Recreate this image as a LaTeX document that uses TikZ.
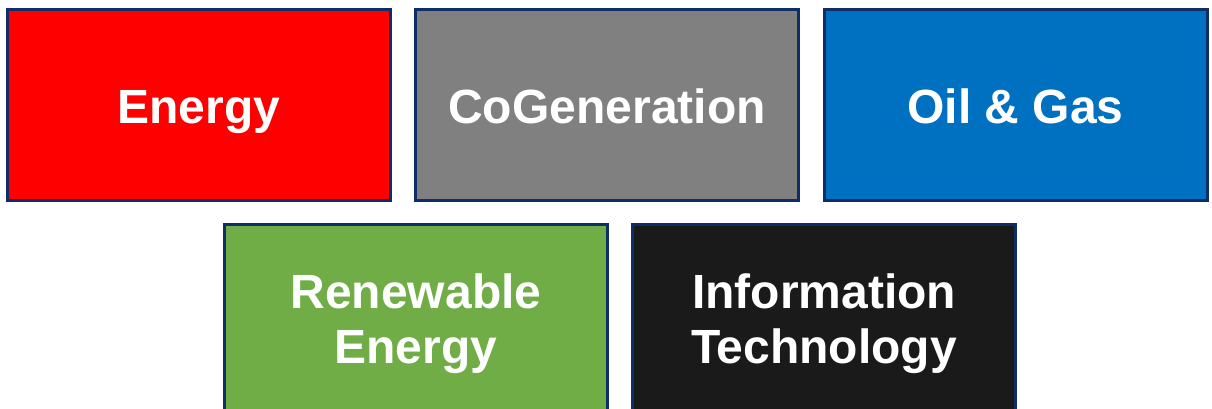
\documentclass[tikz,border=0pt]{standalone}
\usepackage{fontspec}
\setmainfont{Liberation Sans}
\definecolor{navy}{HTML}{0F2D69}
\definecolor{cred}{HTML}{FF0000}
\definecolor{cgray}{HTML}{808080}
\definecolor{cblue}{HTML}{0070C0}
\definecolor{cgreen}{HTML}{70AD47}
\definecolor{cblack}{HTML}{1A1A1A}
\begin{document}
\begin{tikzpicture}[x=1pt,y=-1pt,
  tile/.style={draw=navy, line width=3pt, minimum width=383pt, minimum height=191pt,
    inner sep=0pt, text=white, align=center, text height=36pt, text depth=0pt,
    font=\fontsize{48}{55}\selectfont\bfseries},
  tiletwo/.style={tile, text height=91pt, text depth=5pt}]
\useasboundingbox (0,0) rectangle (1212,408);
\clip (0,0) rectangle (1212,408);
\node[tile, fill=cred] (energy) at (199,105) {Energy};
\node[tile, fill=cgray] (cogen) at (607,105) {CoGeneration};
\node[tile, fill=cblue] (oil) at (1015.5,105) {Oil \& Gas};
\node[tiletwo, fill=cgreen] (renew) at (416,320) {Renewable\\Energy};
\node[tiletwo, fill=cblack] (it) at (824,320) {Information\\Technology};
\end{tikzpicture}
\end{document}
